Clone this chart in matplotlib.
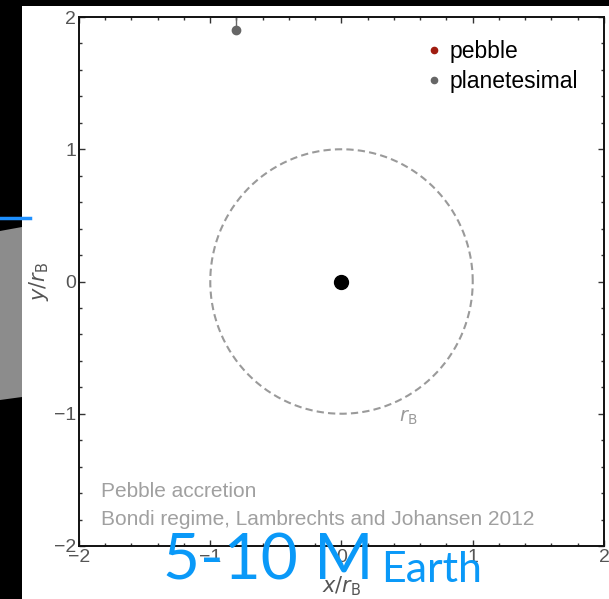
import numpy as np
import matplotlib
matplotlib.use('Agg')
import matplotlib.pyplot as plt
from matplotlib.patches import Rectangle, Polygon

# data
r_bondi = 1.0
planet_x = [0.0]
planet_y = [0.0]
planetesimal_x = [-0.80, -0.80]
planetesimal_y = [2.00, 1.90]
ticks = [-2, -1, 0, 1, 2]
legend_labels = ['pebble', 'planetesimal']
note_lines = ['Pebble accretion', 'Bondi regime, Lambrechts and Johansen 2012']

W, H = 609, 599
fig = plt.figure(figsize=(W / 100, H / 100), dpi=100, facecolor='black')

# slide background bits
fig.patches.append(Rectangle((22 / W, 0), 1 - 22 / W, 1 - 6 / H, transform=fig.transFigure,
                             facecolor='white', edgecolor='none', zorder=-10))
fig.patches.append(Polygon([(0, 1 - 231 / H), (22 / W, 1 - 227 / H), (22 / W, 1 - 397 / H), (0, 1 - 400 / H)],
                           closed=True, transform=fig.transFigure, facecolor='#8c8c8c', edgecolor='none',
                           zorder=-10))
fig.lines.append(plt.Line2D([0, 30 / W], [1 - 218 / H, 1 - 218 / H], transform=fig.transFigure,
                            color='#1e90ff', linewidth=2.5, zorder=-5))

ax = fig.add_axes([79 / W, 1 - 546 / H, (604 - 79) / W, (546 - 17) / H])
ax.set_zorder(1)
ax.set_facecolor('white')

th = np.linspace(0, 2 * np.pi, 400)
ax.plot(r_bondi * np.cos(th), r_bondi * np.sin(th), color='#9a9a9a', linewidth=1.5,
        linestyle=(0, (3.5, 2)))
ax.plot(planet_x, planet_y, 'o', color='black', markersize=10)
ax.plot(planetesimal_x, planetesimal_y, color='#666666', linewidth=1)
ax.plot(planetesimal_x[-1], planetesimal_y[-1], 'o', color='#666666', markersize=6)

# legend
ax.plot([], [], 'o', color='#a01c10', markersize=4.5, label=legend_labels[0])
ax.plot([], [], 'o', color='#666666', markersize=4.5, label=legend_labels[1])
leg = ax.legend(loc='upper right', bbox_to_anchor=(0.972, 0.979), frameon=False, borderpad=0,
                handlelength=0.6, handletextpad=0.35, labelspacing=0.32,
                prop={'family': 'Liberation Sans', 'size': 16.5})

ax.text(0.44, -0.96, '$r_{\\rm B}$', color='#9a9a9a', fontsize=14, ha='left', va='top')
ax.text(-1.83, -1.59, note_lines[0], color='#a0a0a0', fontsize=15, family='Liberation Sans', va='center')
ax.text(-1.83, -1.80, note_lines[1], color='#a0a0a0', fontsize=15, family='Liberation Sans', va='center')

ax.set_xlim(-2, 2)
ax.set_ylim(-2, 2)
ax.set_xticks(ticks)
ax.set_yticks(ticks)
ax.set_xticklabels(['\u2212%d' % -t if t < 0 else str(t) for t in ticks])
ax.set_yticklabels(['\u2212%d' % -t if t < 0 else str(t) for t in ticks])
ax.set_xticks(np.arange(-2, 2.01, 0.2), minor=True)
ax.set_yticks(np.arange(-2, 2.01, 0.2), minor=True)
ax.tick_params(which='both', direction='in', top=True, right=True, colors='#333333',
               labelcolor='#555555', labelsize=14, pad=2)
ax.tick_params(which='major', length=4, width=1)
ax.tick_params(which='minor', length=2.5, width=1)
for lab in ax.get_xticklabels() + ax.get_yticklabels():
    lab.set_family('Liberation Sans')
for s in ax.spines.values():
    s.set_linewidth(1.4)
    s.set_color('#111111')

ax.set_xlabel('$x/r_{\\rm B}$', fontsize=15, color='#555555', labelpad=6)
ax.set_ylabel('$y/r_{\\rm B}$', fontsize=15, color='#555555', labelpad=2)

# slide overlay text
fig.text(163 / W, 1 - 580 / H, '5-10 M', color='#0a99f8', fontsize=46, family='Lato', va='baseline',
         zorder=5)
fig.text(381 / W, 1 - 582 / H, 'Earth', color='#0a99f8', fontsize=31, family='Lato', va='baseline',
         zorder=5)

fig.savefig('out.png', dpi=100, facecolor='black')
